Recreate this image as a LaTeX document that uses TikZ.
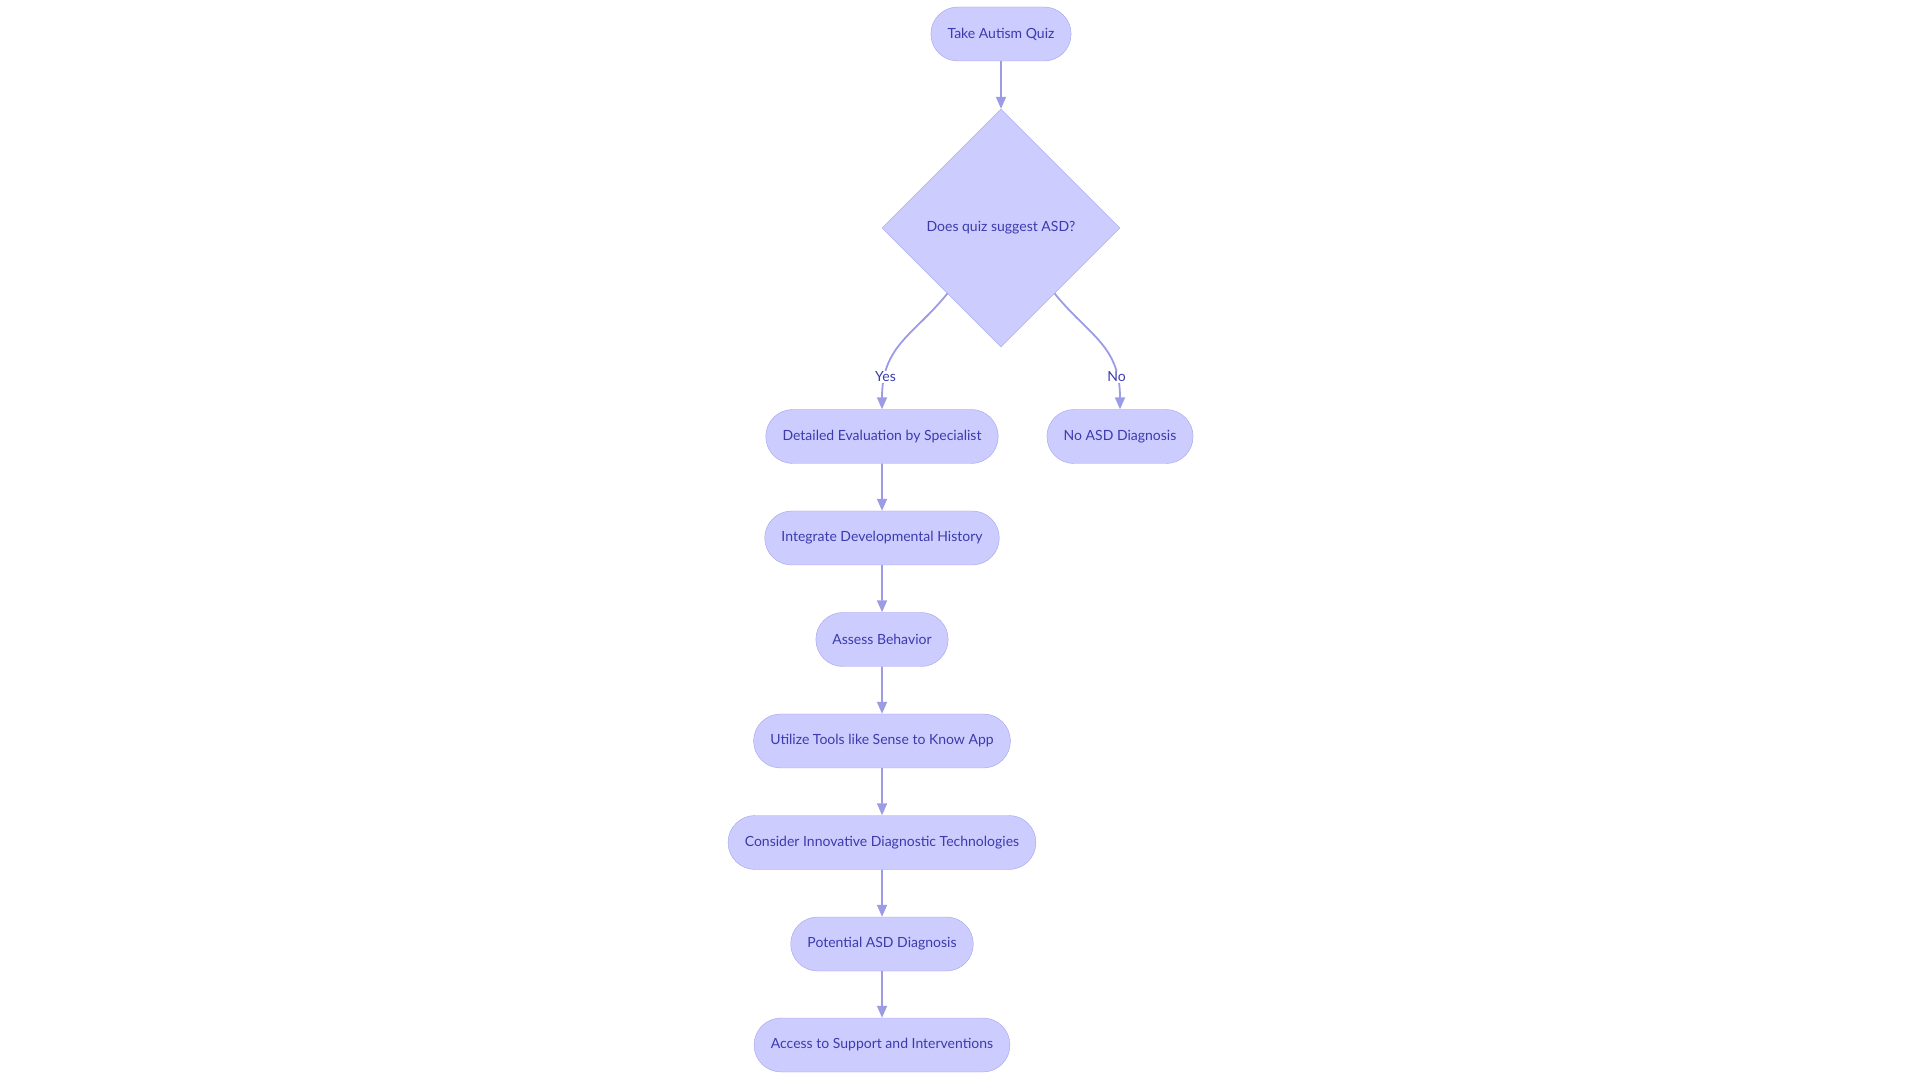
\documentclass[tikz,border=0pt]{standalone}
\usepackage{fontspec}
\setmainfont{Lato}
\usetikzlibrary{shapes.geometric,shapes.misc,arrows.meta,calc}

\definecolor{boxfill}{HTML}{CCCCFF}
\definecolor{boxline}{HTML}{A2A2EC}
\definecolor{flowline}{HTML}{9B9BE6}
\definecolor{boxtext}{HTML}{3B3BAE}

\begin{document}
\begin{tikzpicture}[x=1pt,y=1pt]

\tikzstyle {stage}=[draw=boxline,fill=boxfill,shape=rounded rectangle,
     minimum height=54pt,inner xsep=16pt,text=boxtext,
     font=\fontsize{14}{17}\selectfont];

\tikzstyle {choice}=[draw=boxline,fill=boxfill,shape=diamond,aspect=1,
     minimum width=238pt,minimum height=238pt,inner sep=0pt,text=boxtext,
     font=\fontsize{14}{17}\selectfont];

\tikzstyle {flow}=[draw=flowline,line width=1.8pt,
     -{Triangle[width=10pt,length=12pt]}];

\tikzstyle {tag}=[fill=white,text=boxtext,inner sep=1pt,
     font=\fontsize{14}{17}\selectfont];

\useasboundingbox (0,0) rectangle (1920,1080);

% Quiz and decision
\draw (1001,1046) node [stage] (quiz) {Take Autism Quiz};
\draw (1001,852) node [choice] (dec) {Does quiz suggest ASD?};

% Two outcomes
\draw (882,643.5) node [stage] (eval) {Detailed Evaluation by Specialist};
\draw (1120,643.5) node [stage] (noasd) {No ASD Diagnosis};

% Yes branch, top to bottom
\draw (882,542) node [stage] (hist) {Integrate Developmental History};
\draw (882,440.5) node [stage] (behav) {Assess Behavior};
\draw (882,339) node [stage] (tools) {Utilize Tools like Sense to Know App};
\draw (882,237.5) node [stage] (tech) {Consider Innovative Diagnostic Technologies};
\draw (882,136) node [stage] (pot) {Potential ASD Diagnosis};
\draw (882,35) node [stage] (supp) {Access to Support and Interventions};

% Leaving points on the diamond
\coordinate (yesout) at ($(dec.west)!0.55!(dec.south)$);
\coordinate (noout) at ($(dec.east)!0.55!(dec.south)$);

\draw [flow] (quiz.south) -- (dec.north);

\draw [flow] (yesout) .. controls +(-34,-42) and +(0,64) ..
           node [tag,pos=0.8] {Yes}
           (eval.north);
\draw [flow] (noout) .. controls +(34,-42) and +(0,64) ..
           node [tag,pos=0.8] {No}
           (noasd.north);

\draw [flow] (eval) -- (hist);
\draw [flow] (hist) -- (behav);
\draw [flow] (behav) -- (tools);
\draw [flow] (tools) -- (tech);
\draw [flow] (tech) -- (pot);
\draw [flow] (pot) -- (supp);
\end{tikzpicture}
\end{document}
